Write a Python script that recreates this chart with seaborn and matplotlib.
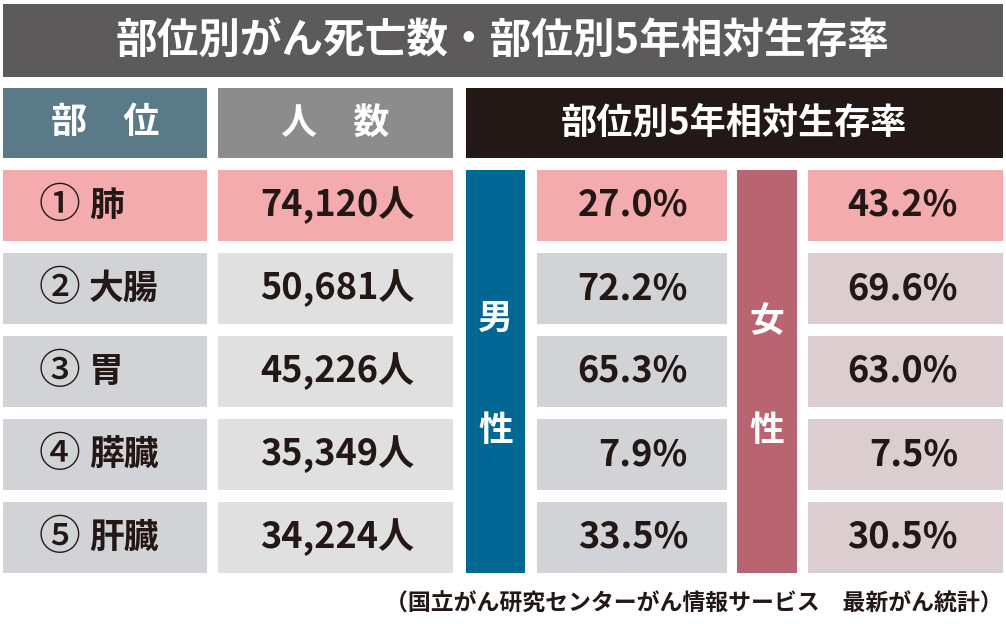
import matplotlib
matplotlib.use("Agg")
import matplotlib.pyplot as plt
from matplotlib.patches import Rectangle
import seaborn as sns

# data
sites = ["① 肺", "② 大腸", "③ 胃", "④ 膵臓", "⑤ 肝臓"]
deaths = [74120, 50681, 45226, 35349, 34224]
male_rate = [27.0, 72.2, 65.3, 7.9, 33.5]
female_rate = [43.2, 69.6, 63.0, 7.5, 30.5]
title = "部位別がん死亡数・部位別5年相対生存率"
headers = ["部　位", "人　数", "部位別5年相対生存率"]
source = "（国立がん研究センターがん情報サービス　最新がん統計）"

sns.set_theme(style="white")
plt.rcParams["font.family"] = ["Noto Sans CJK JP", "DejaVu Sans"]

DARK = "#231815"
PINK = "#f4abad"
GRAY1 = "#d2d3d7"
GRAY2 = "#e0e0e0"
FEM_BG = "#dccdd1"
MALE = "#006892"
FEMALE = "#b96470"

# layout (pixels)
col1 = (3, 207)
col2 = (218, 453)
mbar = (466, 525)
mcol = (537, 727)
fbar = (737, 797)
fcol = (808, 1003)
row_top0, row_h, row_step = 170, 71, 83

fig = plt.figure(figsize=(10.06, 6.24), dpi=100)
ax = fig.add_axes([0, 0, 1, 1])
ax.set_xlim(0, 1006)
ax.set_ylim(624, 0)
ax.axis("off")


def box(x, y0, y1, color):
    ax.add_patch(Rectangle((x[0], y0), x[1] - x[0], y1 - y0, color=color, lw=0))


# title bar
box((3, 1003), 4, 77, "#5c5a5b")
ax.text(503, 41, title, ha="center", va="center", color="white",
        fontsize=30, fontweight="bold")

# header row
box(col1, 88, 158, "#5a7a87")
box(col2, 88, 158, "#8c8c8c")
box((466, 1003), 88, 158, DARK)
ax.text(sum(col1) / 2, 123, headers[0], ha="center", va="center", color="white",
        fontsize=26, fontweight="bold")
ax.text(sum(col2) / 2, 123, headers[1], ha="center", va="center", color="white",
        fontsize=26, fontweight="bold")
ax.text(734, 123, headers[2], ha="center", va="center", color="white",
        fontsize=26, fontweight="bold")

n = len(sites)
bottom = row_top0 + (n - 1) * row_step + row_h
box(mbar, row_top0, bottom, MALE)
box(fbar, row_top0, bottom, FEMALE)
for ch, yy in [("男", 318), ("性", 430)]:
    ax.text(sum(mbar) / 2, yy, ch, ha="center", va="center", color="white",
            fontsize=25, fontweight="bold")
for ch, yy in [("女", 322), ("性", 430)]:
    ax.text(sum(fbar) / 2, yy, ch, ha="center", va="center", color="white",
            fontsize=25, fontweight="bold")

for i, (s, d, m, f) in enumerate(zip(sites, deaths, male_rate, female_rate)):
    y0 = row_top0 + i * row_step
    y1 = y0 + row_h
    yc = (y0 + y1) / 2
    first = i == 0
    box(col1, y0, y1, PINK if first else GRAY1)
    box(col2, y0, y1, PINK if first else GRAY2)
    box(mcol, y0, y1, PINK if first else GRAY1)
    box(fcol, y0, y1, PINK if first else FEM_BG)
    mark, name = s.split(" ")
    ax.text(39, yc, mark, ha="left", va="center", color=DARK,
            fontsize=30, fontweight="medium")
    ax.text(89, yc, name, ha="left", va="center", color=DARK,
            fontsize=25, fontweight="bold")
    ax.text(sum(col2) / 2 + 2, yc, f"{d:,}人", ha="center", va="center",
            color=DARK, fontsize=26, fontweight="bold")
    ax.text(688, yc, f"{m:.1f}%", ha="right", va="center", color=DARK,
            fontsize=26, fontweight="bold")
    ax.text(958, yc, f"{f:.1f}%", ha="right", va="center", color=DARK,
            fontsize=26, fontweight="bold")

ax.text(1003, 604, source, ha="right", va="center", color=DARK,
        fontsize=16.5, fontweight="bold")

fig.savefig("out.png", dpi=100, facecolor="white")
